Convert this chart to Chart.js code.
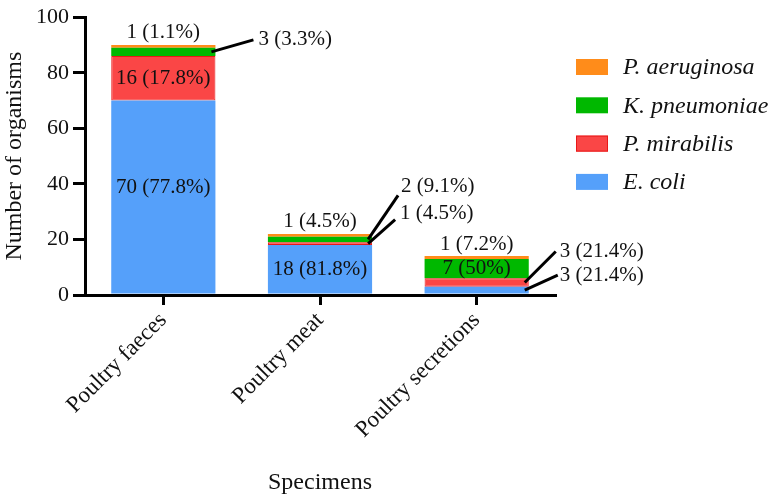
<!DOCTYPE html>
<html>
<head>
<meta charset="utf-8">
<script src="https://cdn.jsdelivr.net/npm/chart.js@4.4.1/dist/chart.umd.min.js"></script>
<style>
  html, body { margin: 0; padding: 0; background: #fff; }
  #wrap { width: 776px; height: 497px; position: relative; }
  .warm { position: absolute; left: 250px; top: 455px; font-family: "Liberation Serif"; font-size: 24px; color: #000; z-index: 0; }
  #warmCanvas { position: absolute; left: 0; top: 0; z-index: 0; }
  #chartBox { position: absolute; left: 0; top: 0; width: 776px; height: 497px; z-index: 1; }
</style>
</head>
<body>
<div id="wrap">
  <div class="warm">Specimens <i>E. coli</i></div>
  <canvas id="warmCanvas" width="300" height="80"></canvas>
  <div id="chartBox"><canvas id="specimenChart"></canvas></div>
</div>
<script>
// data
const categories = ["Poultry faeces", "Poultry meat", "Poultry secretions"];
const eColi = [70, 18, 3];
const pMirabilis = [16, 1, 3];
const kPneumoniae = [3, 2, 7];
const pAeruginosa = [1, 1, 1];
// percentages exactly as printed
const eColiPct = ["77.8", "81.8", "21.4"];
const pMirabilisPct = ["17.8", "4.5", "21.4"];
const kPneumoniaePct = ["3.3", "9.1", "50"];
const pAeruginosaPct = ["1.1", "4.5", "7.2"];
const yTicks = [0, 20, 40, 60, 80, 100];

const SERIF = "'Liberation Serif'";

// first canvas text in a face can come out in the fallback face, so spend that on a hidden canvas
const wctx = document.getElementById("warmCanvas").getContext("2d");
["22px ", "italic 24px ", "21px ", "23px ", "24px "].forEach((f, i) => {
    wctx.font = f + SERIF;
    wctx.fillText("Specimens", 5, 15 + i * 12);
});

// where each value label goes: inside the segment, above the bar, or on a leader line
const placement = {
    "0-0": { type: "inside", dy: -10 },
    "0-1": { type: "inside", dy: 0 },
    "0-2": { type: "callout", lx: 33, ly: -15, tx: 2, ty: 0 },
    "1-0": { type: "inside", dy: 0 },
    "1-1": { type: "callout", lx: 27, ly: -24, tx: 5, ty: -6 },
    "1-2": { type: "callout", lx: 31, ly: -31, tx: 4, ty: 0 },
    "2-0": { type: "callout", lx: 42, ly: -12, tx: 5, ty: 0 },
    "2-1": { type: "callout", lx: 30, ly: -44, tx: 3, ty: -9 },
    "2-2": { type: "inside", dy: 0 },
    "3-0": { type: "top", dy: -12 },
    "3-1": { type: "top", dy: -12 },
    "3-2": { type: "top", dy: -12 }
};

const whiteBack = {
    id: "whiteBack",
    beforeDraw(chart) {
        const ctx = chart.ctx;
        ctx.save();
        ctx.fillStyle = "#fff";
        ctx.fillRect(0, 0, chart.width, chart.height);
        ctx.restore();
    }
};

const valueLabels = {
    id: "valueLabels",
    afterDatasetsDraw(chart) {
        const ctx = chart.ctx;
        ctx.save();
        ctx.font = "21px " + SERIF;
        ctx.fillStyle = "#111";
        ctx.strokeStyle = "#000";
        ctx.lineWidth = 3;
        ctx.textBaseline = "middle";
        chart.data.datasets.forEach((ds, i) => {
            const meta = chart.getDatasetMeta(i);
            meta.data.forEach((bar, j) => {
                const p = placement[i + "-" + j];
                if (!p) return;
                const text = ds.data[j] + " (" + ds.pct[j] + "%)";
                const midY = (bar.y + bar.base) / 2;
                if (p.type === "inside") {
                    ctx.textAlign = "center";
                    ctx.fillText(text, bar.x, midY + p.dy);
                } else if (p.type === "top") {
                    ctx.textAlign = "center";
                    ctx.fillText(text, bar.x, bar.y + p.dy);
                } else {
                    const sx = bar.x + bar.width / 2 - 4;
                    const ex = sx + p.lx, ey = midY + p.ly;
                    ctx.beginPath();
                    ctx.moveTo(sx, midY);
                    ctx.lineTo(ex, ey);
                    ctx.stroke();
                    ctx.textAlign = "left";
                    ctx.fillText(text, ex + p.tx, ey + p.ty);
                }
            });
        });
        ctx.restore();
    }
};

const sideLegend = {
    id: "sideLegend",
    afterDraw(chart) {
        const ctx = chart.ctx;
        ctx.save();
        ctx.font = "italic 24px " + SERIF;
        ctx.textBaseline = "middle";
        ctx.textAlign = "left";
        const sets = chart.data.datasets.slice().reverse();
        sets.forEach((ds, k) => {
            const y = 67 + k * 38.3;
            ctx.fillStyle = ds.backgroundColor;
            ctx.fillRect(576, y - 8, 32, 16);
            if (ds.borderWidth) {
                ctx.strokeStyle = ds.borderColor;
                ctx.lineWidth = 1;
                ctx.strokeRect(576.5, y - 7.5, 31, 15);
            }
            ctx.fillStyle = "#111";
            ctx.fillText(ds.label, 623, y + 1);
        });
        ctx.restore();
    }
};

const chart = new Chart(document.getElementById("specimenChart"), {
    type: "bar",
    data: {
        labels: categories,
        datasets: [
            { label: "E. coli", data: eColi, pct: eColiPct, backgroundColor: "#55a0fa", borderWidth: 0 },
            { label: "P. mirabilis", data: pMirabilis, pct: pMirabilisPct, backgroundColor: "#fa4646", borderColor: "#e81818", borderWidth: 1, borderSkipped: false },
            { label: "K. pneumoniae", data: kPneumoniae, pct: kPneumoniaePct, backgroundColor: "#00b800", borderWidth: 0 },
            { label: "P. aeruginosa", data: pAeruginosa, pct: pAeruginosaPct, backgroundColor: "#ff8c1a", borderWidth: 0 }
        ]
    },
    options: {
        responsive: true,
        maintainAspectRatio: false,
        animation: false,
        categoryPercentage: 1,
        barPercentage: 0.665,
        layout: { padding: { left: 0, right: 221, top: 8, bottom: 0 } },
        plugins: {
            legend: { display: false },
            tooltip: { enabled: false }
        },
        scales: {
            x: {
                stacked: true,
                offset: true,
                grid: { offset: false, drawOnChartArea: false, tickLength: 10, color: "#000", lineWidth: 3 },
                border: { display: true, color: "#000", width: 3 },
                ticks: { color: "#111", font: { family: SERIF, size: 23 }, minRotation: 45, maxRotation: 45, padding: 2 },
                title: { display: true, text: "Specimens", color: "#111", font: { family: SERIF, size: 24 }, padding: 0 },
                afterFit(scale) { scale.height = 202; }
            },
            y: {
                stacked: true,
                min: 0,
                max: 100,
                afterBuildTicks(scale) { scale.ticks = yTicks.map(v => ({ value: v })); },
                grid: { drawOnChartArea: false, tickLength: 12, color: "#000", lineWidth: 3 },
                border: { display: true, color: "#000", width: 3 },
                ticks: { color: "#111", font: { family: SERIF, size: 22 }, padding: 4 },
                title: { display: true, text: "Number of organisms", color: "#111", font: { family: SERIF, size: 24 }, padding: 0 },
                afterFit(scale) { scale.width = 85; }
            }
        }
    },
    plugins: [whiteBack, valueLabels, sideLegend]
});

// redraw after layout as well
const redraw = () => chart.update("none");
requestAnimationFrame(() => requestAnimationFrame(redraw));
window.addEventListener("load", () => requestAnimationFrame(redraw));
setTimeout(redraw, 50);
setTimeout(redraw, 250);
</script>
</body>
</html>
